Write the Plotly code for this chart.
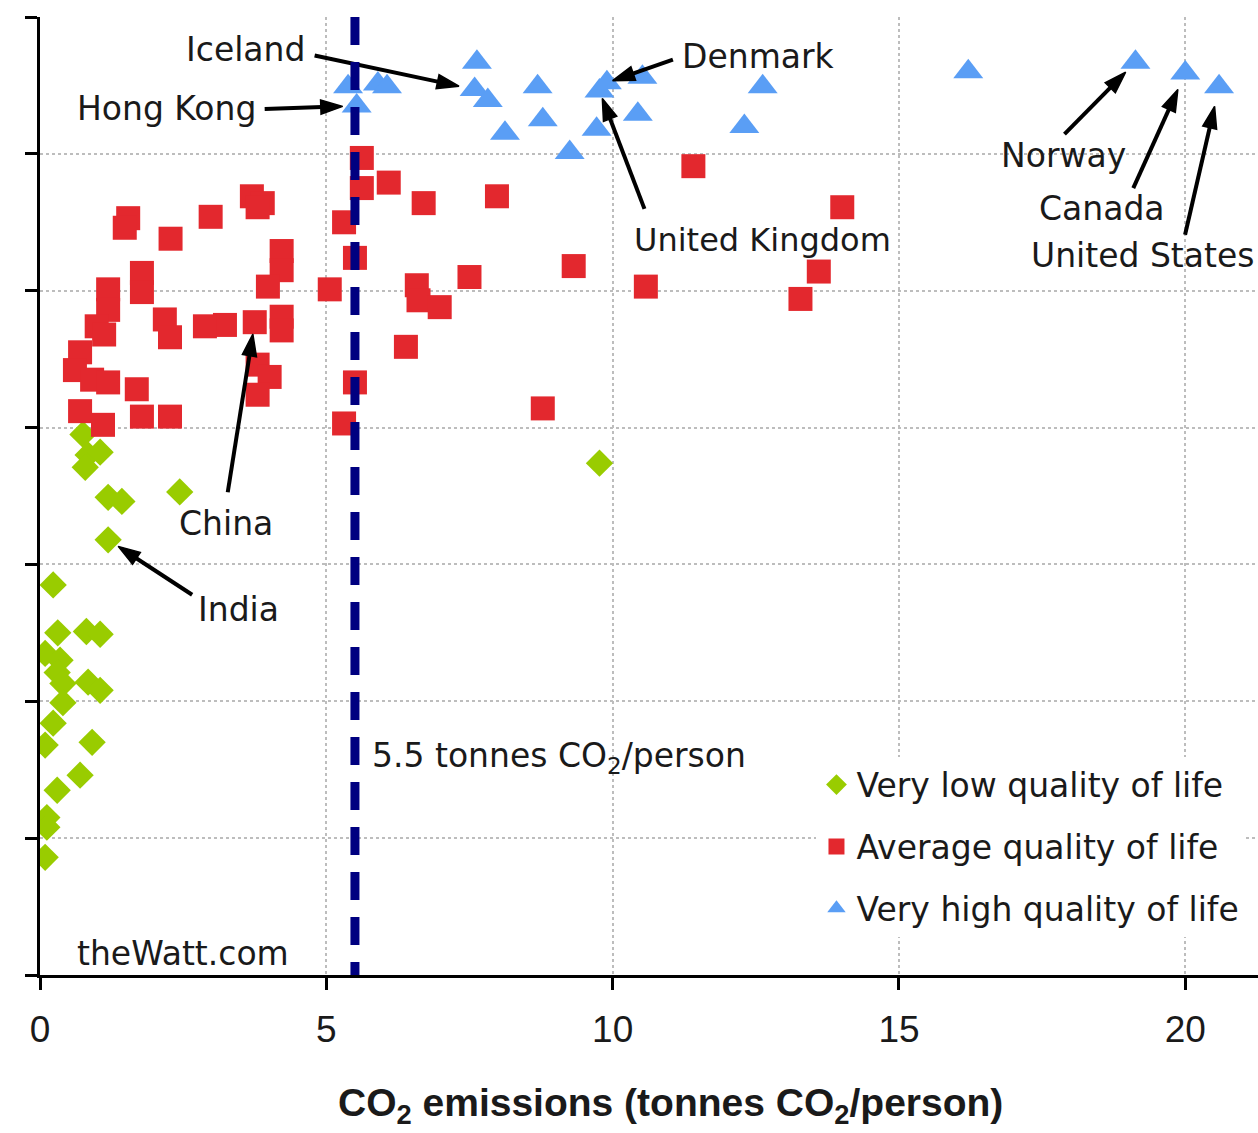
import plotly.graph_objects as go

# CO2 emissions (tonnes per person) vs Human Development Index, by group
low_co2 = [0.75, 0.84, 1.05, 0.79, 1.19, 1.43, 2.44, 1.19, 9.77, 0.23, 0.31, 0.81,
           1.05, 0.09, 0.35, 0.30, 0.40, 0.84, 1.05, 0.40, 0.23, 0.09, 0.91, 0.70,
           0.30, 0.12, 0.12, 0.09]
low_hdi = [0.695, 0.680, 0.682, 0.671, 0.649, 0.646, 0.653, 0.618, 0.674, 0.585, 0.550, 0.551,
           0.549, 0.535, 0.530, 0.521, 0.513, 0.514, 0.508, 0.499, 0.484, 0.468, 0.470, 0.446,
           0.435, 0.415, 0.408, 0.386]

avg_co2 = [1.54, 1.48, 2.28, 2.98, 3.70, 3.89, 3.80, 4.22, 4.22, 3.98, 4.22, 4.22,
           3.75, 3.23, 2.88, 1.78, 1.78, 2.18, 2.27, 1.19, 1.19, 0.99, 1.12, 0.70,
           0.61, 0.91, 1.19, 1.69, 0.70, 1.10, 1.78, 2.27, 3.80, 4.01, 3.80,
           5.62, 5.62, 6.09, 6.70, 7.98, 5.31, 11.41, 14.01, 5.50, 7.50, 9.32,
           5.06, 6.58, 6.61, 6.98, 10.58, 13.60, 13.28, 6.39, 5.50, 8.78, 5.31]
avg_hdi = [0.853, 0.846, 0.838, 0.854, 0.869, 0.864, 0.861, 0.829, 0.815, 0.803, 0.781, 0.771,
           0.777, 0.775, 0.774, 0.813, 0.799, 0.779, 0.766, 0.801, 0.786, 0.774, 0.768, 0.755,
           0.742, 0.735, 0.733, 0.728, 0.712, 0.702, 0.708, 0.708, 0.746, 0.737, 0.724,
           0.897, 0.875, 0.879, 0.864, 0.869, 0.850, 0.891, 0.861, 0.824, 0.810, 0.818,
           0.801, 0.804, 0.793, 0.788, 0.803, 0.814, 0.794, 0.759, 0.733, 0.714, 0.703]

high_co2 = [7.63, 7.59, 7.82, 8.12, 8.69, 8.78, 9.25, 9.77, 9.90, 9.72, 10.52,
            10.44, 12.62, 12.30, 5.38, 5.53, 5.90, 6.06, 16.21, 19.13, 20.00, 20.59]
high_hdi = [0.967, 0.947, 0.939, 0.915, 0.949, 0.925, 0.901, 0.946, 0.952, 0.918, 0.956,
            0.929, 0.949, 0.920, 0.949, 0.935, 0.951, 0.949, 0.960, 0.967, 0.959, 0.949]

# Highlighted countries: (group, index into that group's arrays)
countries = {
    "India": ("low", 7),
    "China": ("avg", 12),
    "Iceland": ("high", 1),
    "United Kingdom": ("high", 7),
    "Denmark": ("high", 8),
    "Hong Kong": ("high", 15),
    "Norway": ("high", 19),
    "Canada": ("high", 20),
    "United States": ("high", 21),
}

SUSTAINABLE_LIMIT = 5.5  # tonnes CO2 per person

x_ticks = [0, 5, 10, 15, 20]
y_ticks = [0.3, 0.4, 0.5, 0.6, 0.7, 0.8, 0.9, 1.0]

groups = {
    "low": (low_co2, low_hdi),
    "avg": (avg_co2, avg_hdi),
    "high": (high_co2, high_hdi),
}

# Figure geometry
W, H = 1258, 1133
M_L, M_R, M_T, M_B = 40, 0, 17, 158
X_RANGE = [0, 21.27]
Y_RANGE = [y_ticks[0], y_ticks[-1]]
PX_PER_X = (W - M_L - M_R) / (X_RANGE[1] - X_RANGE[0])
PX_PER_Y = (H - M_T - M_B) / (Y_RANGE[1] - Y_RANGE[0])

GREEN = "#99CC00"
RED = "#E3282E"
BLUE = "#5A9EF5"
NAVY = "#000080"
LABEL_FONT = dict(family="DejaVu Sans", size=33, color="#1a1a1a")

fig = go.Figure()
fig.add_trace(go.Scatter(
    x=low_co2, y=low_hdi, mode="markers", name="Very low quality of life",
    legendgroup="a",
    marker=dict(symbol="diamond", size=21, color=GREEN, line=dict(width=0)),
))
fig.add_trace(go.Scatter(
    x=avg_co2, y=avg_hdi, mode="markers", name="Average quality of life",
    legendgroup="b",
    marker=dict(symbol="square", size=24, color=RED, line=dict(width=0)),
))
fig.add_trace(go.Scatter(
    x=high_co2, y=high_hdi, mode="markers", name="Very high quality of life",
    legendgroup="c",
    marker=dict(symbol="triangle-up", size=26, color=BLUE, line=dict(width=0)),
))

# Sustainable emissions threshold
fig.add_shape(type="line", xref="x", yref="y",
              x0=SUSTAINABLE_LIMIT, x1=SUSTAINABLE_LIMIT, y0=Y_RANGE[1], y1=Y_RANGE[0],
              line=dict(color=NAVY, width=9, dash="28px,17px"), layer="above")

# Arrows pointing at highlighted countries:
# tail offset from the country's point in screen px (right, down) and a standoff
arrow_spec = {
    "Iceland": (-160, -34, 16),
    "Hong Kong": (-92, 3, 14),
    "Denmark": (66, -23, 6),
    "United Kingdom": (45, 118, 8),
    "Norway": (-71, 72, 14),
    "Canada": (-52, 115, 18),
    "United States": (-34, 148, 20),
    "China": (-27, 170, 12),
    "India": (84, 55, 12),
}
for name, (dx, dy, so) in arrow_spec.items():
    grp, idx = countries[name]
    xs, ys = groups[grp]
    hx, hy = xs[idx], ys[idx]
    tx, ty = hx + dx / PX_PER_X, hy - dy / PX_PER_Y
    fig.add_trace(go.Scatter(
        x=[tx, hx], y=[ty, hy], mode="lines+markers", showlegend=False,
        hoverinfo="skip",
        line=dict(color="black", width=4),
        marker=dict(symbol="arrow", angleref="previous", size=[0, 23],
                    standoff=[0, so], color="black", opacity=1,
                    line=dict(width=1.5, color="black")),
    ))

# Country labels
labels = [
    ("Iceland", 4.66, 0.976, "right"),
    ("Hong Kong", 3.81, 0.933, "right"),
    ("Denmark", 11.18, 0.971, "left"),
    ("United Kingdom", 10.34, 0.837, "left"),
    ("Norway", 17.87, 0.899, "center"),
    ("Canada", 18.55, 0.860, "center"),
    ("United States", 19.25, 0.826, "center"),
    ("China", 3.25, 0.630, "center"),
    ("India", 3.46, 0.567, "center"),
]
for text, x, y, anchor in labels:
    fig.add_annotation(x=x, y=y, xref="x", yref="y", text=text, showarrow=False,
                       xanchor=anchor, yanchor="middle",
                       font=dict(LABEL_FONT, size=32) if text == "United Kingdom" else LABEL_FONT)

fig.add_annotation(x=5.76, y=0.459, xref="x", yref="y",
                   text=f"{SUSTAINABLE_LIMIT} tonnes CO<sub>2</sub>/person",
                   showarrow=False, xanchor="left", yanchor="middle", font=LABEL_FONT)
fig.add_annotation(x=0.61, y=0.316, xref="x", yref="y", text="theWatt.com",
                   showarrow=False, xanchor="left", yanchor="middle", font=LABEL_FONT)

# X-axis title, placed below the tick labels
fig.add_annotation(x=(670 - M_L) / (W - M_L - M_R), y=-(1105 - (H - M_B)) / (H - M_T - M_B),
                   xref="paper", yref="paper",
                   text="<b>CO<sub>2</sub> emissions (tonnes CO<sub>2</sub>/person)</b>",
                   showarrow=False, xanchor="center", yanchor="middle",
                   font=dict(family="Liberation Sans, Arial", size=39, color="#1a1a1a"))

fig.update_xaxes(
    range=X_RANGE, tickvals=x_ticks, ticktext=[str(v) for v in x_ticks],
    showgrid=True, gridcolor="#BDBDBD", gridwidth=1.5, griddash="dot",
    zeroline=False, showline=True, linecolor="black", linewidth=2.5,
    ticks="outside", ticklen=12, tickwidth=2.5, tickcolor="black",
    tickfont=dict(family="Liberation Sans Narrow, Liberation Sans, Arial", size=37, color="#1a1a1a"),
    ticklabelstandoff=8,
)
fig.update_yaxes(
    range=Y_RANGE, tickvals=y_ticks, showticklabels=False,
    showgrid=True, gridcolor="#BDBDBD", gridwidth=1.5, griddash="dot",
    zeroline=False, showline=True, linecolor="black", linewidth=2.5,
    ticks="outside", ticklen=12, tickwidth=2.5, tickcolor="black",
)

fig.update_layout(
    width=W, height=H,
    margin=dict(l=M_L, r=M_R, t=M_T, b=M_B),
    plot_bgcolor="white", paper_bgcolor="white",
    showlegend=True,
    legend=dict(x=0.6375, y=0.228, xanchor="left", yanchor="top",
                bgcolor="white", borderwidth=0,
                font=dict(family="DejaVu Sans", size=33, color="#1a1a1a"),
                tracegroupgap=16, itemsizing="trace"),
)

fig.write_html("out.html")
